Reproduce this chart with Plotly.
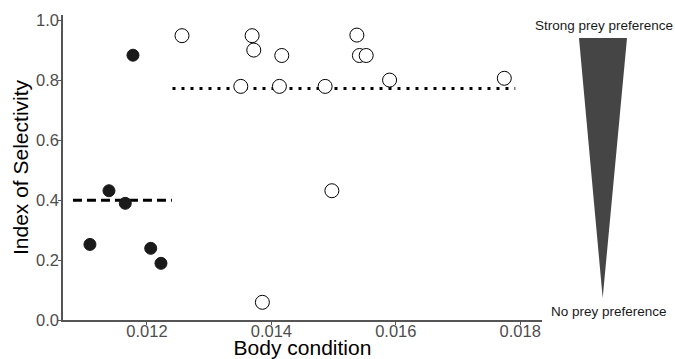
import plotly.graph_objects as go

# Filled points (group 1)
filled_x = [0.011775, 0.011083, 0.011389, 0.011651, 0.012060, 0.012225]
filled_y = [0.883, 0.252, 0.431, 0.389, 0.239, 0.189]

# Open points (group 2)
open_x = [0.012563, 0.013690, 0.013717, 0.014167, 0.013508, 0.014129, 0.014864,
          0.015374, 0.015415, 0.015524, 0.015900, 0.017744, 0.014972, 0.013855]
open_y = [0.948, 0.948, 0.900, 0.882, 0.779, 0.779, 0.779,
          0.950, 0.882, 0.882, 0.800, 0.806, 0.431, 0.059]

# Group mean lines
dash_x = [0.01081, 0.01240]
dash_y = [0.399, 0.399]
dot_x = [0.01241, 0.01792]
dot_y = [0.772, 0.772]

x_ticks = [0.012, 0.014, 0.016, 0.018]
x_tick_labels = ["0.012", "0.014", "0.016", "0.018"]
y_ticks = [0.0, 0.2, 0.4, 0.6, 0.8, 1.0]
y_tick_labels = ["0.0", "0.2", "0.4", "0.6", "0.8", "1.0"]

FONT = "Liberation Sans, Arial, sans-serif"

fig = go.Figure()
fig.add_trace(go.Scatter(x=dash_x, y=dash_y, mode="lines",
                         line=dict(color="black", width=3, dash="9px,5px"),
                         hoverinfo="skip"))
fig.add_trace(go.Scatter(x=dot_x, y=dot_y, mode="lines",
                         line=dict(color="black", width=3, dash="3px,6px"),
                         hoverinfo="skip"))
fig.add_trace(go.Scatter(x=filled_x, y=filled_y, mode="markers",
                         marker=dict(size=12, color="#1a1a1a",
                                     line=dict(color="#1a1a1a", width=1))))
fig.add_trace(go.Scatter(x=open_x, y=open_y, mode="markers",
                         marker=dict(size=14, color="white",
                                     line=dict(color="black", width=1))))

# Preference wedge (decoration) in paper coordinates
fig.add_shape(type="path", xref="paper", yref="paper",
              path="M 1.0772 0.9246 L 1.1775 0.9246 L 1.1267 0.0721 Z",
              fillcolor="#454545", line=dict(width=0))
fig.add_annotation(xref="paper", yref="paper", x=1.1294, y=0.967,
                   text="Strong prey preference", showarrow=False,
                   font=dict(family=FONT, size=13.5, color="#1a1a1a"),
                   xanchor="center", yanchor="middle")
fig.add_annotation(xref="paper", yref="paper", x=1.1399, y=0.0295,
                   text="No prey preference", showarrow=False,
                   font=dict(family=FONT, size=13.5, color="#1a1a1a"),
                   xanchor="center", yanchor="middle")

fig.update_layout(
    width=675, height=359,
    margin=dict(l=63, r=133, t=15, b=39),
    paper_bgcolor="white", plot_bgcolor="white",
    showlegend=False,
    font=dict(family=FONT),
    xaxis=dict(range=[0.01065, 0.01835], tickvals=x_ticks, ticktext=x_tick_labels,
               showgrid=False, zeroline=False, showline=True, linecolor="#555555",
               linewidth=1.5, ticks="outside", ticklen=3, tickcolor="#555555",
               automargin=False, ticklabelstandoff=-8,
               tickfont=dict(size=16.5, color="#4d4d4d", family=FONT),
               title=dict(text="Body condition", font=dict(size=21, color="black"),
                          standoff=3)),
    yaxis=dict(range=[0, 1.017], tickvals=y_ticks, ticktext=y_tick_labels,
               showgrid=False, zeroline=False, showline=True, linecolor="#555555",
               linewidth=1.5, ticks="outside", ticklen=3, tickcolor="#555555",
               automargin=False, ticklabelstandoff=-4,
               tickfont=dict(size=16.5, color="#4d4d4d", family=FONT),
               title=dict(text="Index of Selectivity", font=dict(size=21, color="black"),
                          standoff=2)),
)

fig.write_html("out.html", config={"displayModeBar": False},
               post_script="document.body.style.margin='0';")
